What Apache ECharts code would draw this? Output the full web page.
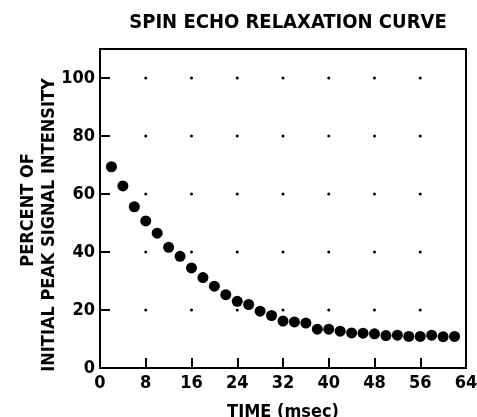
<!DOCTYPE html>
<html>
<head>
<meta charset="utf-8">
<script src="https://cdn.jsdelivr.net/npm/echarts@6/dist/echarts.min.js"></script>
<style>
  html, body { margin: 0; padding: 0; background: #fff; }
  #chart { width: 477px; height: 417px; }
</style>
</head>
<body>
<div id="chart"></div>
<script>
// echo times (msec) and percent of initial peak signal
const timeMs = [2, 4, 6, 8, 10, 12, 14, 16, 18, 20, 22, 24, 26, 28, 30, 32,
  34, 36, 38, 40, 42, 44, 46, 48, 50, 52, 54, 56, 58, 60, 62];
const percentSignal = [69.4, 62.8, 55.6, 50.7, 46.5, 41.6, 38.5, 34.5, 31.2, 28.2,
  25.3, 23.0, 21.9, 19.6, 18.1, 16.2, 15.9, 15.5, 13.4, 13.4, 12.7, 12.1, 12.0,
  11.8, 11.2, 11.3, 10.9, 10.9, 11.3, 10.8, 10.9];

const xTicks = [0, 8, 16, 24, 32, 40, 48, 56, 64];
const yTicks = [0, 20, 40, 60, 80, 100];

const FONT = "'Liberation Sans Narrow', 'DejaVu Sans Condensed', 'Arial Narrow', sans-serif";

// dotted grid at interior tick crossings
const gridDots = [];
xTicks.slice(1, -1).forEach(x => {
  yTicks.slice(1).forEach(y => gridDots.push([x, y]));
});

const chart = echarts.init(document.getElementById('chart'), null, { renderer: 'canvas' });

chart.setOption({
  animation: false,
  backgroundColor: '#fff',
  textStyle: { fontFamily: FONT, fontWeight: 'bold', color: '#000' },
  title: {
    text: 'SPIN ECHO RELAXATION CURVE',
    left: 283, top: 8, textAlign: 'center',
    textStyle: { fontFamily: FONT, fontWeight: 'bold', fontSize: 20, color: '#000' }
  },
  grid: {
    left: 100, right: 11, top: 49, bottom: 49,
    outerBoundsMode: 'none',
    show: true, borderColor: '#000', borderWidth: 2
  },
  xAxis: {
    type: 'value', min: 0, max: 64, interval: 8,
    axisLine: { show: true, lineStyle: { color: '#000', width: 2 } },
    axisTick: { inside: true, length: 10, lineStyle: { color: '#000', width: 2 } },
    axisLabel: { color: '#000', fontFamily: FONT, fontWeight: 'bold', fontSize: 18, margin: 6 },
    splitLine: { show: false },
    name: 'TIME (msec)', nameLocation: 'middle', nameGap: 35,
    nameTextStyle: { color: '#000', fontFamily: FONT, fontWeight: 'bold', fontSize: 18 }
  },
  yAxis: {
    type: 'value', min: 0, max: 110, interval: 20,
    axisLine: { show: true, lineStyle: { color: '#000', width: 2 } },
    axisTick: { inside: true, length: 10, lineStyle: { color: '#000', width: 2 } },
    axisLabel: {
      color: '#000', fontFamily: FONT, fontWeight: 'bold', fontSize: 18, margin: 5,
      formatter: v => (yTicks.includes(v) ? String(v) : '')
    },
    splitLine: { show: false }
  },
  graphic: [
    {
      type: 'text', x: 28, y: 210, rotation: Math.PI / 2,
      style: { text: 'PERCENT OF', fontFamily: FONT, fontWeight: 'bold', fontSize: 18,
        fill: '#000', align: 'center', verticalAlign: 'middle' }
    },
    {
      type: 'text', x: 49, y: 225, rotation: Math.PI / 2,
      style: { text: 'INITIAL PEAK SIGNAL INTENSITY', fontFamily: FONT, fontWeight: 'bold',
        fontSize: 18, fill: '#000', align: 'center', verticalAlign: 'middle' }
    }
  ],
  series: [
    {
      type: 'scatter', data: gridDots, symbolSize: 3, silent: true,
      itemStyle: { color: '#000', opacity: 1 }
    },
    {
      type: 'scatter',
      data: timeMs.map((t, i) => [t, percentSignal[i]]),
      symbolSize: 11,
      itemStyle: { color: '#000', opacity: 1 }
    }
  ]
});
</script>
</body>
</html>
